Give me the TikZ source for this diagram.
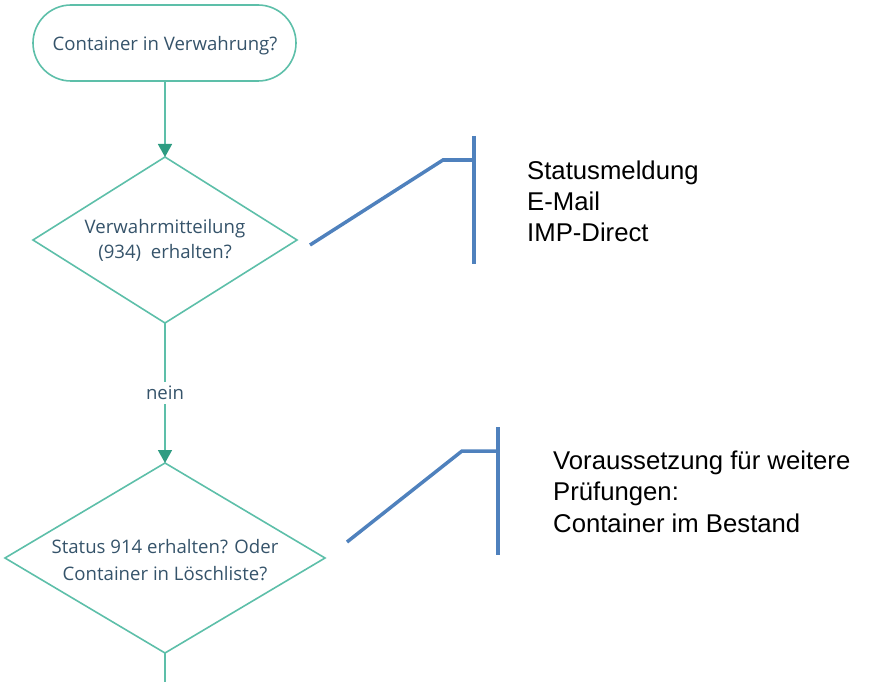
\documentclass[tikz,border=0pt]{standalone}
\usepackage{fontspec}
\setmainfont{Liberation Sans}
\newfontfamily\flowfont{Open Sans}
\usetikzlibrary{shapes.geometric,arrows.meta}
\definecolor{tealline}{HTML}{5DBFA9}
\definecolor{tealhead}{HTML}{2E9C82}
\definecolor{flowtext}{HTML}{35536A}
\definecolor{calloutblue}{HTML}{4F81BD}
\tikzset{
  flowline/.style={draw=tealline, line width=1.6pt},
  flowarrow/.style={flowline, -{Triangle[length=13pt,width=14pt,fill=tealhead,color=tealhead]}},
  flowlabel/.style={font=\flowfont\fontsize{18.6}{22}\selectfont, text=flowtext, anchor=base, inner sep=0pt},
  callout/.style={draw=calloutblue, line width=3.5pt},
  notetext/.style={font=\fontsize{25.7}{31}\selectfont, anchor=base west, inner sep=0pt}
}
\begin{document}
\begin{tikzpicture}[x=1pt,y=-1pt]
\useasboundingbox (0,0) rectangle (870,682);
% terminal
\draw[flowline, rounded corners=38pt] (33,5) rectangle (296,81);
\node[flowlabel] (start) at (165,51) {Container in Verwahrung?};
\coordinate (startb) at (165,81);
% diamond 1
\coordinate (d1t) at (165,157);
\coordinate (d1l) at (33,240);
\coordinate (d1r) at (297,240);
\coordinate (d1b) at (165,323);
\draw[flowline] (d1t) -- (d1r) -- (d1b) -- (d1l) -- cycle;
\node[flowlabel] (d1a) at (165,233) {Verwahrmitteilung};
\node[flowlabel] (d1c) at (165,258) {(934)\ \ erhalten?};
% diamond 2
\coordinate (d2t) at (165,463);
\coordinate (d2l) at (5,558);
\coordinate (d2r) at (325,558);
\coordinate (d2b) at (165,653);
\draw[flowline] (d2t) -- (d2r) -- (d2b) -- (d2l) -- cycle;
\node[flowlabel] (d2a) at (165,553) {Status 914 erhalten? Oder};
\node[flowlabel] (d2c) at (165,580) {Container in Löschliste?};
% connectors
\draw[flowarrow] (startb) -- (d1t);
\node[flowlabel, anchor=center, inner sep=4pt] (nein) at (165,393) {nein};
\draw[flowline] (d1b) -- (nein.north);
\draw[flowarrow] (nein.south) -- (d2t);
\coordinate (endb) at (165,682);
\draw[flowline] (d2b) -- (endb);
% callout 1
\coordinate (c1a) at (310,245);
\coordinate (c1b) at (443,160);
\coordinate (c1c) at (474,160);
\coordinate (c1top) at (474,136);
\coordinate (c1bot) at (474,264);
\draw[callout] (c1a) -- (c1b) -- (c1c);
\draw[callout] (c1top) -- (c1bot);
\node[notetext] (n1a) at (527,179) {Statusmeldung};
\node[notetext] (n1b) at (527,210) {E-Mail};
\node[notetext] (n1c) at (527,241) {IMP-Direct};
% callout 2
\coordinate (c2a) at (347,542);
\coordinate (c2b) at (462,451);
\coordinate (c2c) at (498,451);
\coordinate (c2top) at (498,427);
\coordinate (c2bot) at (498,555);
\draw[callout] (c2a) -- (c2b) -- (c2c);
\draw[callout] (c2top) -- (c2bot);
\node[notetext] (n2a) at (553,469) {Voraussetzung für weitere};
\node[notetext] (n2b) at (553,500) {Prüfungen:};
\node[notetext] (n2c) at (553,532) {Container im Bestand};
\end{tikzpicture}
\end{document}
